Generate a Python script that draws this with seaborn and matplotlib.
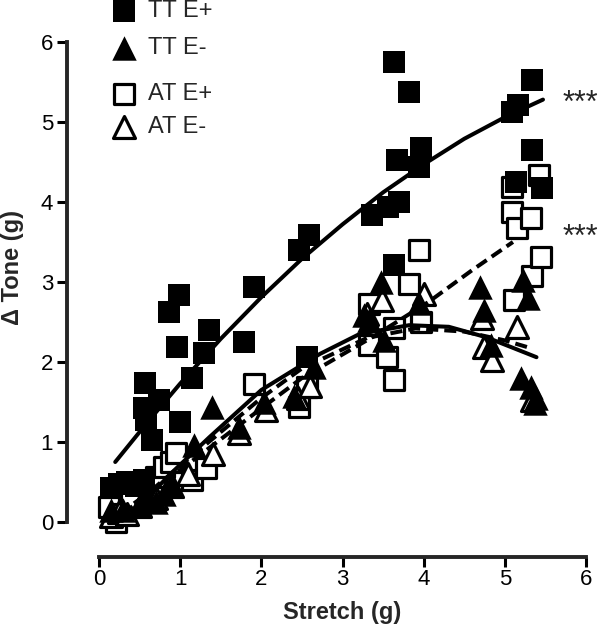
import numpy as np
import pandas as pd
import matplotlib
matplotlib.use('Agg')
import matplotlib.pyplot as plt
import seaborn as sns

# TT E+ (filled squares)
tt_pos_x = [0.15, 0.25, 0.35, 0.45, 0.55, 0.57, 0.55, 0.58, 0.65, 0.74,
            0.86, 0.96, 0.99, 1.0, 1.15, 1.29, 1.35, 1.79, 1.91,
            2.46, 2.56, 2.59, 3.36, 3.56, 3.63, 3.63, 3.67, 3.7, 3.82, 3.94, 3.97,
            5.09, 5.14, 5.16, 5.34, 5.34, 5.46]
tt_pos_y = [0.42, 0.47, 0.5, 0.45, 0.52, 1.74, 1.43, 1.28, 1.03, 1.53,
            2.63, 2.19, 2.84, 1.25, 1.8, 2.11, 2.4, 2.25, 2.94,
            3.4, 2.06, 3.59, 3.84, 3.94, 5.75, 3.21, 4.53, 4.0, 5.38, 4.44, 4.68,
            5.13, 4.25, 5.21, 4.65, 5.53, 4.18]

# TT E- (filled triangles)
tt_neg_x = [0.15, 0.3, 0.5, 0.6, 0.7, 0.8, 0.9, 1.17, 1.39, 1.72, 2.03, 2.4, 2.65,
            3.26, 3.33, 3.47, 3.51, 3.94, 4.7, 4.74, 4.83,
            5.2, 5.22, 5.28, 5.32, 5.37, 5.39]
tt_neg_y = [0.15, 0.15, 0.22, 0.3, 0.25, 0.35, 0.45, 0.96, 1.44, 1.19, 1.5, 1.57, 1.94,
            2.59, 2.52, 3.0, 2.27, 2.74, 2.94, 2.65, 2.21,
            1.8, 3.02, 2.8, 1.69, 1.49, 1.55]

# AT E+ (open squares)
at_pos_x = [0.12, 0.21, 0.3, 0.4, 0.7, 0.8, 0.89, 0.95, 1.15, 1.32, 1.91, 2.46, 2.56,
            3.33, 3.33, 3.55, 3.63, 3.63, 3.82, 3.94, 3.97,
            5.09, 5.09, 5.11, 5.15, 5.32, 5.34, 5.42, 5.44]
at_pos_y = [0.19, 0.0, 0.1, 0.27, 0.56, 0.69, 0.75, 0.86, 0.52, 0.68, 1.73, 1.44, 1.69,
            2.73, 2.21, 2.06, 1.78, 2.42, 2.98, 3.4, 2.5,
            4.19, 3.88, 2.77, 3.67, 3.8, 3.07, 4.34, 3.31]

# AT E- (open triangles)
at_neg_x = [0.15, 0.25, 0.35, 0.5, 0.7, 0.9, 1.1, 1.4, 1.72, 2.06, 2.45, 2.6,
            3.3, 3.49, 4.0, 4.72, 4.74, 4.84, 5.15, 5.33]
at_neg_y = [0.08, 0.12, 0.1, 0.2, 0.3, 0.45, 0.6, 0.85, 1.11, 1.4, 1.55, 1.7,
            2.6, 2.78, 2.85, 2.55, 2.19, 2.02, 2.44, 1.52]

# fitted curves
fit_tt_pos_x = [0.2, 0.6, 1.0, 1.5, 2.0, 2.5, 3.0, 3.5, 4.0, 4.5, 5.0, 5.47]
fit_tt_pos_y = [0.75, 1.25, 1.73, 2.29, 2.81, 3.29, 3.72, 4.12, 4.47, 4.79, 5.06, 5.28]
fit_tt_neg_x = [0.45, 0.9, 1.36, 2.0, 2.72, 3.21, 3.82, 4.31, 4.77, 5.39]
fit_tt_neg_y = [0.15, 0.62, 1.06, 1.65, 2.1, 2.35, 2.46, 2.44, 2.31, 2.06]
fit_at_pos_x = [0.25, 1.0, 2.0, 2.5, 3.4, 4.06, 4.6, 5.1]
fit_at_pos_y = [0.1, 0.65, 1.42, 1.8, 2.33, 2.75, 3.15, 3.5]
fit_at_neg_x = [0.3, 1.0, 2.0, 2.5, 3.3, 3.9, 4.5, 5.0, 5.33]
fit_at_neg_y = [0.1, 0.7, 1.55, 1.92, 2.3, 2.42, 2.38, 2.27, 2.17]

sns.set_style('ticks')
plt.rcParams['font.family'] = ['Liberation Sans', 'DejaVu Sans']

fig = plt.figure(figsize=(6.02, 6.40), dpi=100)
ax = fig.add_axes([99 / 602, 118 / 640, 487 / 602, 480 / 640])

sq = 200
tri = 250
sns.scatterplot(x=at_pos_x, y=at_pos_y, marker='s', s=sq, color='white',
                edgecolor='black', linewidth=2.3, clip_on=False, zorder=2,
                label='AT E+', ax=ax)
sns.scatterplot(x=at_neg_x, y=at_neg_y, marker='^', s=tri, color='white',
                edgecolor='black', linewidth=2.3, clip_on=False, zorder=2,
                label='AT E-', ax=ax)
sns.scatterplot(x=tt_pos_x, y=tt_pos_y, marker='s', s=sq + 60, color='black',
                edgecolor='black', linewidth=0, clip_on=False, zorder=2,
                label='TT E+', ax=ax)
sns.scatterplot(x=tt_neg_x, y=tt_neg_y, marker='^', s=tri + 60, color='black',
                edgecolor='black', linewidth=0, clip_on=False, zorder=2,
                label='TT E-', ax=ax)

lw = 2.9
sns.lineplot(x=fit_tt_pos_x, y=fit_tt_pos_y, color='black', linewidth=lw, zorder=3, ax=ax)
sns.lineplot(x=fit_tt_neg_x, y=fit_tt_neg_y, color='black', linewidth=lw, zorder=3, ax=ax)
sns.lineplot(x=fit_at_pos_x, y=fit_at_pos_y, color='black', linewidth=lw,
             linestyle=(0, (3, 1.5)), zorder=3, ax=ax)
sns.lineplot(x=fit_at_neg_x, y=fit_at_neg_y, color='black', linewidth=lw,
             linestyle=(0, (3, 1.5)), zorder=3, ax=ax)

ax.set_xlim(0, 6)
ax.set_ylim(0, 6)
ax.set_xticks(range(7))
ax.set_yticks(range(7))
sns.despine(ax=ax, offset={'left': 23, 'bottom': 25}, trim=True)
for side in ['left', 'bottom']:
    ax.spines[side].set_linewidth(2.8)
ax.tick_params(axis='both', width=2.2, length=7, labelsize=16, color='black',
               labelcolor='black')
ax.tick_params(axis='x', pad=2)
ax.tick_params(axis='y', pad=3)

ax.set_xlabel('Stretch (g)', fontsize=17, fontweight='bold')
ax.set_ylabel('\u0394 Tone (g)', fontsize=17, fontweight='bold')
ax.xaxis.set_label_coords(0.5, -0.165)
ax.yaxis.set_label_coords(-0.155, 0.53)

ax.text(5.71, 5.13, '***', fontsize=22)
ax.text(5.71, 3.45, '***', fontsize=22)

handles, labels = ax.get_legend_handles_labels()
lookup = dict(zip(labels, handles))
if ax.get_legend() is not None:
    ax.get_legend().remove()
common = dict(frameon=False, fontsize=17, borderpad=0, handlelength=1.2,
              handletextpad=0.4, scatterpoints=1, loc='upper left',
              bbox_transform=fig.transFigure, borderaxespad=0)
leg1 = ax.legend([lookup['TT E+'], lookup['TT E-']], ['TT E+', 'TT E-'],
                 bbox_to_anchor=(110 / 602, 1.0), labelspacing=0.65, **common)
ax.add_artist(leg1)
ax.legend([lookup['AT E+'], lookup['AT E-']], ['AT E+', 'AT E-'],
          bbox_to_anchor=(110 / 602, 1 - 83 / 640), labelspacing=0.48, **common)

fig.savefig('out.png', dpi=100)
